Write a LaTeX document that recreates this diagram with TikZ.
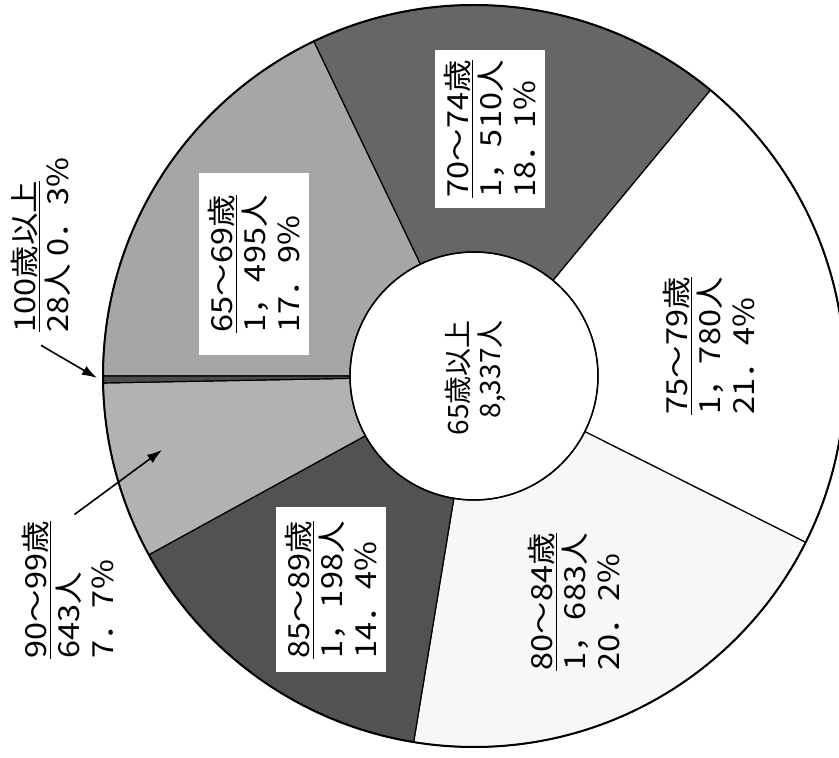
\documentclass[tikz,border=0pt]{standalone}
\usepackage{fontspec}
\setmainfont{Noto Sans CJK JP}
\newfontfamily\lblfont[FakeStretch=1.12]{Noto Sans CJK JP}
\usetikzlibrary{arrows.meta}

\definecolor{gA}{gray}{0.65}  % 65-69
\definecolor{gB}{gray}{0.40}  % 70-74
\definecolor{gC}{gray}{1.00}  % 75-79
\definecolor{gD}{gray}{0.97}  % 80-84
\definecolor{gE}{gray}{0.32}  % 85-89
\definecolor{gF}{gray}{0.70}  % 90-99
\definecolor{gG}{gray}{0.30}  % 100-

\begin{document}
\begin{tikzpicture}[x=1pt,y=1pt,
  lbl/.style={rotate=90, align=left, font=\lblfont\fontsize{29}{33.5}\selectfont, inner sep=2pt},
  lblbox/.style={lbl, fill=white, inner xsep=10pt, inner ysep=9pt},
  ptr/.style={line width=1.6pt, -{Latex[length=15pt,width=10pt]}}]
\useasboundingbox (0,0) rectangle (839,758);
\clip (0,0) rectangle (839,758);
\coordinate (c) at (474,382);
% ring slices: start angle / end angle / colour
\begin{scope}[shift={(c)}]
\foreach \a/\b/\col in {180/115.56/gA, 115.56/50.40/gB, 50.40/-26.64/gC,
  -26.64/-99.36/gD, -99.36/-151.20/gE, -151.20/-178.92/gF, -178.92/-180/gG} {
 \filldraw[fill=\col, draw=black, line width=1.2pt]
   (\a:371) arc[start angle=\a, end angle=\b, radius=371]
   -- (\b:124) arc[start angle=\b, end angle=\a, radius=124] -- cycle;
}
\draw[line width=2pt] (0,0) circle[radius=371];
\draw[line width=1.5pt] (0,0) circle[radius=124];
\end{scope}
% labels
\node[lbl, align=right, font=\fontsize{28}{32}\selectfont] (total) at (475,380) {65歳以上\\8,337人};
\node[lblbox, minimum width=182pt] (l65) at (254,494) {\underline{65～69歳}\\1，495人\\17．9\%};
\node[lblbox] (l70) at (490,629) {\underline{70～74歳}\\1，510人\\18．1\%};
\node[lbl] (l75) at (709,412) {\underline{75～79歳}\\1，780人\\21．4\%};
\node[lbl] (l80) at (574,156) {\underline{80～84歳}\\1，683人\\20．2\%};
\node[lblbox, minimum width=165pt] (l85) at (331,168) {\underline{85～89歳}\\1，198人\\14．4\%};
\node[lbl] (l90) at (68,168) {\underline{90～99歳}\\643人\\7．7\%};
\node[lbl] (l100) at (41,513) {\underline{100歳以上}\\28人 0．3\%};
% pointers
\coordinate (tip90) at (162,308);
\coordinate (tip100) at (97,380);
\draw[ptr, shorten <=8pt] (l90.east) -- (tip90);
\draw[ptr] ([yshift=-11pt]l100.west) -- (tip100);
\end{tikzpicture}
\end{document}
